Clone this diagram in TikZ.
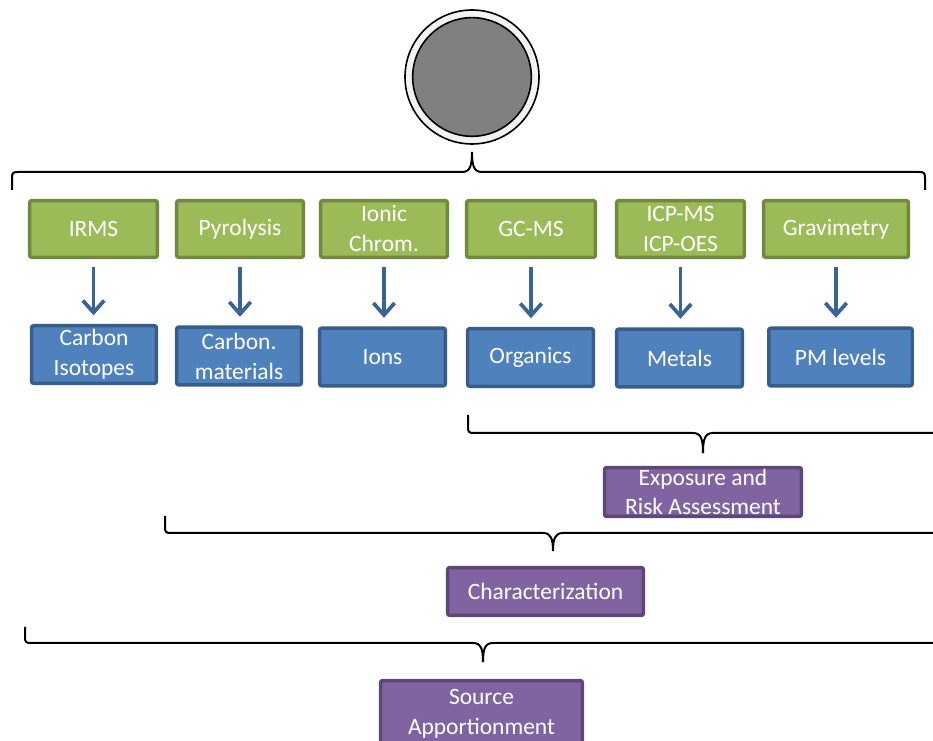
\documentclass[tikz,border=0pt]{standalone}
\usepackage{fontspec}
\setmainfont{Carlito}
\usetikzlibrary{arrows.meta}
\definecolor{gfill}{HTML}{9BBB59}
\definecolor{gline}{HTML}{71893F}
\definecolor{bfill}{HTML}{4F81BD}
\definecolor{bline}{HTML}{385D8A}
\definecolor{pfill}{HTML}{8064A2}
\definecolor{pline}{HTML}{5C4776}
\definecolor{arrowc}{HTML}{3A6496}
\definecolor{ringc}{HTML}{F2F2F2}
\definecolor{diskc}{HTML}{808080}
\begin{document}
\begin{tikzpicture}[x=0.75pt,y=-0.75pt,
  box/.style={rectangle, rounded corners=1.5pt, line width=2.6pt, text=white, align=center,
    font=\fontsize{17.6}{22.5}\selectfont, inner sep=0pt},
  gbox/.style={box, draw=gline, fill=gfill, minimum height=42.5pt},
  bbox/.style={box, draw=bline, fill=bfill, minimum height=43.2pt},
  pbox/.style={box, draw=pline, fill=pfill, font=\fontsize{17.6}{21.5}\selectfont},
  flow/.style={draw=arrowc, line width=2.8pt, -{Straight Barb[length=9pt,width=16pt]},
    shorten <=6pt, shorten >=6.5pt},
  brace/.style={draw=black, line width=1.5pt}]
\clip (0,0) rectangle (933,741);
% top disk
\node[circle, draw=black, line width=1.2pt, fill=ringc, minimum size=100.5pt, inner sep=0pt] (ring) at (472,77) {};
\node[circle, draw=black, line width=1.2pt, fill=diskc, minimum size=89pt, inner sep=0pt] (disk) at (472,77) {};
% top brace
\draw[brace] (12,190) -- (12,178) .. controls (12,173) and (13,172) .. (18,172) -- (462,172)
  .. controls (470,172) and (472,166) .. (472,152) .. controls (472,166) and (474,172) .. (482,172)
  -- (919,172) .. controls (924,172) and (925,173) .. (925,178) -- (925,190);
% green boxes
\node[gbox, minimum width=95.8pt] (irms) at (93.5,229) {IRMS};
\node[gbox, minimum width=95.1pt] (pyro) at (240,229) {Pyrolysis};
\node[gbox, minimum width=95.1pt] (ionic) at (384,229) {Ionic\\Chrom.};
\node[gbox, minimum width=96.6pt] (gcms) at (531,229) {GC-MS};
\node[gbox, minimum width=95.8pt] (icp) at (680.5,229) {ICP-MS\\ICP-OES};
\node[gbox, minimum width=108.6pt] (grav) at (836,229) {Gravimetry};
% blue boxes
\node[bbox, minimum width=93.6pt] (ciso) at (94,354.5) {Carbon\\Isotopes};
\node[bbox, minimum width=93.6pt] (cmat) at (239,356) {Carbon.\\materials};
\node[bbox, minimum width=94.3pt] (ions) at (382.5,357) {Ions};
\node[bbox, minimum width=94.3pt] (orgs) at (530.5,357.5) {Organics};
\node[bbox, minimum width=94.3pt] (mets) at (679.5,358) {Metals};
\node[bbox, minimum width=107.6pt] (pm) at (840.5,357) {PM levels};
% arrows
\draw[flow] (irms.south) -- (irms.south |- ciso.north);
\draw[flow] (pyro.south) -- (pyro.south |- cmat.north);
\draw[flow] (ionic.south) -- (ionic.south |- ions.north);
\draw[flow] (gcms.south) -- (gcms.south |- orgs.north);
\draw[flow] (icp.south) -- (icp.south |- mets.north);
\draw[flow] (grav.south) -- (grav.south |- pm.north);
% exposure brace
\draw[brace] (468,415) -- (468,427) .. controls (468,432) and (469,433) .. (474,433) -- (693,433)
  .. controls (701,433) and (703,439) .. (703,453) .. controls (703,439) and (705,433) .. (713,433) -- (940,433);
\node[pbox, minimum width=147.6pt, minimum height=36.6pt] (expo) at (703,492) {Exposure and\\Risk Assessment};
% characterization brace
\draw[brace] (165,516) -- (165,527) .. controls (165,532) and (166,533) .. (171,533) -- (543,533)
  .. controls (551,533) and (553,539) .. (553,551) .. controls (553,539) and (555,533) .. (563,533) -- (940,533);
\node[pbox, minimum width=146.8pt, minimum height=35.8pt] (char) at (545.5,591.5) {Characterization};
% source brace
\draw[brace] (25,627) -- (25,637) .. controls (25,642) and (26,643) .. (31,643) -- (473,643)
  .. controls (481,643) and (483,649) .. (483,662) .. controls (483,649) and (485,643) .. (493,643) -- (940,643);
\node[pbox, minimum width=151.3pt, minimum height=50.1pt, font=\fontsize{17.6}{22.5}\selectfont] (src) at (481.5,714) {Source\\Apportionment};
\end{tikzpicture}
\end{document}
